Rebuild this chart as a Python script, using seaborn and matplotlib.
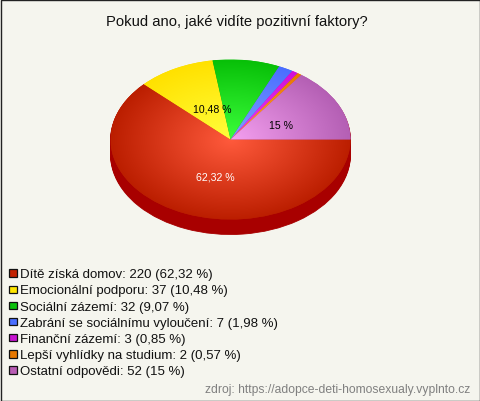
import numpy as np
import matplotlib
matplotlib.use("Agg")
import matplotlib.pyplot as plt
from matplotlib.patches import Rectangle
import seaborn as sns

title = "Pokud ano, jaké vidíte pozitivní faktory?"
source = "zdroj: https://adopce-deti-homosexualy.vyplnto.cz"
categories = ["Dítě získá domov", "Emocionální podporu", "Sociální zázemí",
              "Zabrání se sociálnímu vyloučení", "Finanční zázemí",
              "Lepší vyhlídky na studium", "Ostatní odpovědi"]
counts = [220, 37, 32, 7, 3, 2, 52]
percent_labels = ["62,32 %", "10,48 %", "9,07 %", "1,98 %", "0,85 %", "0,57 %", "15 %"]
percents = [62.32, 10.48, 9.07, 1.98, 0.85, 0.57, 15.0]
legend_colors = ["#c22200", "#ffe600", "#0cc20c", "#4a6eff", "#c814d2", "#e87800", "#b85cb4"]
inner_colors = ["#ff5a3c", "#ffff3c", "#3cff3c", "#7fa0ff", "#f03cf5", "#ffa040", "#f5a0f0"]
outer_colors = ["#bb1e00", "#ffe100", "#08c008", "#4a6eff", "#d010d8", "#e87800", "#b45fb4"]
side_color = "#a80000"
bg_color = "#f5f5ee"

sns.set_theme(style="white", rc={"figure.facecolor": bg_color, "axes.facecolor": "none"})
plt.rcParams["font.family"] = ["Liberation Sans", "DejaVu Sans"]

W, H = 480, 402
fig = plt.figure(figsize=(W / 100, H / 100), dpi=100)

# pie sits in its own axes so a circle becomes the flat ellipse
cx, cy, rx, ry, depth = 230.5, 140.5, 120, 80, 15
ax = fig.add_axes([(cx - rx) / W, 1 - (cy + ry) / H, 2 * rx / W, 2 * ry / H])

# side of the disc, same pie stacked downwards
for d in range(depth, 0, -1):
    ax.pie(percents, startangle=0, counterclock=False, radius=1, center=(0, -d / ry),
           colors=[side_color] * len(percents), frame=True,
           wedgeprops={"edgecolor": side_color, "linewidth": 0.6})

wedges, _ = ax.pie(percents, startangle=0, counterclock=False, radius=1,
                   colors=outer_colors, frame=True, wedgeprops={"linewidth": 0})

gx, gy = np.meshgrid(np.linspace(-1, 1, 480), np.linspace(-1, 1, 320))
r = np.clip(np.hypot(gx, gy), 0, 1)[..., None]
for w, c0, c1 in zip(wedges, inner_colors, outer_colors):
    c0 = np.array(matplotlib.colors.to_rgb(c0))
    c1 = np.array(matplotlib.colors.to_rgb(c1))
    im = ax.imshow(c0 + (c1 - c0) * r, extent=(-1, 1, -1, 1), origin="lower",
                   aspect="auto", zorder=2)
    im.set_clip_path(w)

ax.set_aspect("auto")
ax.set_xlim(-1, 1)
ax.set_ylim(-1, 1)
for p in ax.patches:
    p.set_clip_on(False)
ax.axis("off")

# overlay in pixel coordinates for all the text
ov = fig.add_axes([0, 0, 1, 1])
ov.set_xlim(0, W)
ov.set_ylim(H, 0)
ov.axis("off")

ov.text(237, 21.8, title, ha="center", va="center", fontsize=10.6, color="#111111")
ov.text(215, 177.8, percent_labels[0], ha="center", va="center", fontsize=7.6, color="white")
ov.text(212, 109.8, percent_labels[1], ha="center", va="center", fontsize=7.6, color="black")
ov.text(281, 125.8, percent_labels[6], ha="center", va="center", fontsize=7.6, color="black")

for i, (name, n, pct, col) in enumerate(zip(categories, counts, percent_labels, legend_colors)):
    y = 274 + i * 16.17
    ov.add_patch(Rectangle((9.3, y - 3.6), 7.4, 7.4, facecolor=col, edgecolor="#111111", lw=0.9))
    ov.text(20, y + 1.2, f"{name}: {n} ({pct})", ha="left", va="center", fontsize=9.55, color="#111111")

ov.text(470, 389.7, source, ha="right", va="center", fontsize=8.72, color="#808080")

# window border
ov.add_patch(Rectangle((0.5, 0.5), W - 1, H - 1, facecolor="none", edgecolor="#222222", lw=1))

fig.savefig("out.png", dpi=100, facecolor=bg_color)
